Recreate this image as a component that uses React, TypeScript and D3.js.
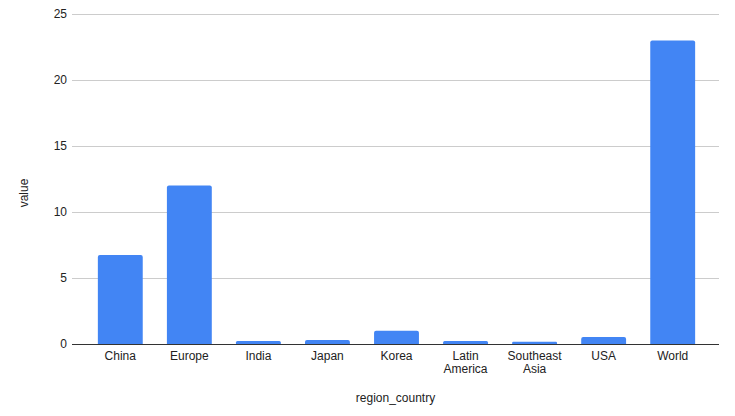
import * as d3 from "d3"
import React, { useEffect, useRef } from "react"

const categories = ["China", "Europe", "India", "Japan", "Korea", "Latin America", "Southeast Asia", "USA", "World"]
const values = [6.75, 12, 0.23, 0.3, 1.0, 0.23, 0.17, 0.53, 23]
const yTicks = [0, 5, 10, 15, 20, 25]

const labelLines: Record<string, string[]> = {
    "Latin America": ["Latin", "America"],
    "Southeast Asia": ["Southeast", "Asia"],
}

const App = () => {
    const svgRef = useRef<SVGSVGElement>(null)

    useEffect(() => {
        const width = 735
        const height = 416
        const margin = { top: 14, right: 16, bottom: 72, left: 72 }
        const font = "Arial, 'Liberation Sans', sans-serif"

        const svg = d3.select(svgRef.current)
            .attr("width", width)
            .attr("height", height)
            .style("position", "absolute")
            .style("left", "0px")
            .style("top", "0px")
            .style("background", "#fff")

        svg.selectAll("*").remove()

        const x = d3.scaleBand()
            .domain(categories)
            .range([margin.left + 1, width - margin.right + 1])
            .paddingInner(0.35)
            .paddingOuter(0.36)

        const y = d3.scaleLinear()
            .domain([0, 25])
            .range([height - margin.bottom, margin.top])

        // gridlines
        svg.append("g")
            .selectAll("line")
            .data(yTicks.filter(t => t > 0))
            .join("line")
            .attr("x1", margin.left)
            .attr("x2", width - margin.right)
            .attr("y1", d => Math.round(y(d)) + 0.5)
            .attr("y2", d => Math.round(y(d)) + 0.5)
            .attr("stroke", "#cccccc")
            .attr("stroke-width", 1)

        // y tick labels
        svg.append("g")
            .selectAll("text")
            .data(yTicks)
            .join("text")
            .attr("x", margin.left - 5)
            .attr("y", d => y(d))
            .attr("dy", "0.35em")
            .attr("text-anchor", "end")
            .attr("font-family", font)
            .attr("font-size", 12)
            .attr("fill", "#222")
            .text(d => d)

        // bars with slightly rounded tops
        const r = 2
        svg.append("g")
            .selectAll("path")
            .data(categories)
            .join("path")
            .attr("fill", "#4285f4")
            .attr("d", (d, i) => {
                const x0 = x(d)!
                const w = x.bandwidth()
                const y0 = y(values[i])
                const yb = y(0)
                const rr = Math.min(r, (yb - y0) / 2)
                return `M${x0},${yb} L${x0},${y0 + rr} Q${x0},${y0} ${x0 + rr},${y0} L${x0 + w - rr},${y0} Q${x0 + w},${y0} ${x0 + w},${y0 + rr} L${x0 + w},${yb} Z`
            })

        // baseline
        svg.append("line")
            .attr("x1", margin.left)
            .attr("x2", width - margin.right)
            .attr("y1", Math.round(y(0)) + 0.5)
            .attr("y2", Math.round(y(0)) + 0.5)
            .attr("stroke", "#333")
            .attr("stroke-width", 1)

        // x tick labels
        const xl = svg.append("g")
            .selectAll("text")
            .data(categories)
            .join("text")
            .attr("x", d => x(d)! + x.bandwidth() / 2)
            .attr("y", y(0) + 16)
            .attr("text-anchor", "middle")
            .attr("font-family", font)
            .attr("font-size", 12)
            .attr("fill", "#222")
        xl.selectAll("tspan")
            .data(d => labelLines[d] ?? [d])
            .join("tspan")
            .attr("x", function () {
                return (this.parentNode as SVGTextElement).getAttribute("x")
            })
            .attr("dy", (_, i) => (i === 0 ? 0 : 13))
            .text(d => d)

        // axis titles
        svg.append("text")
            .attr("x", (margin.left + width - margin.right) / 2)
            .attr("y", 402)
            .attr("text-anchor", "middle")
            .attr("font-family", font)
            .attr("font-size", 12)
            .attr("fill", "#222")
            .text("region_country")

        svg.append("text")
            .attr("transform", `translate(28, ${(margin.top + height - margin.bottom) / 2 + 14}) rotate(-90)`)
            .attr("text-anchor", "middle")
            .attr("font-family", font)
            .attr("font-size", 12)
            .attr("fill", "#222")
            .text("value")
    }, [])

    return <svg ref={svgRef}></svg>
}

export default App
